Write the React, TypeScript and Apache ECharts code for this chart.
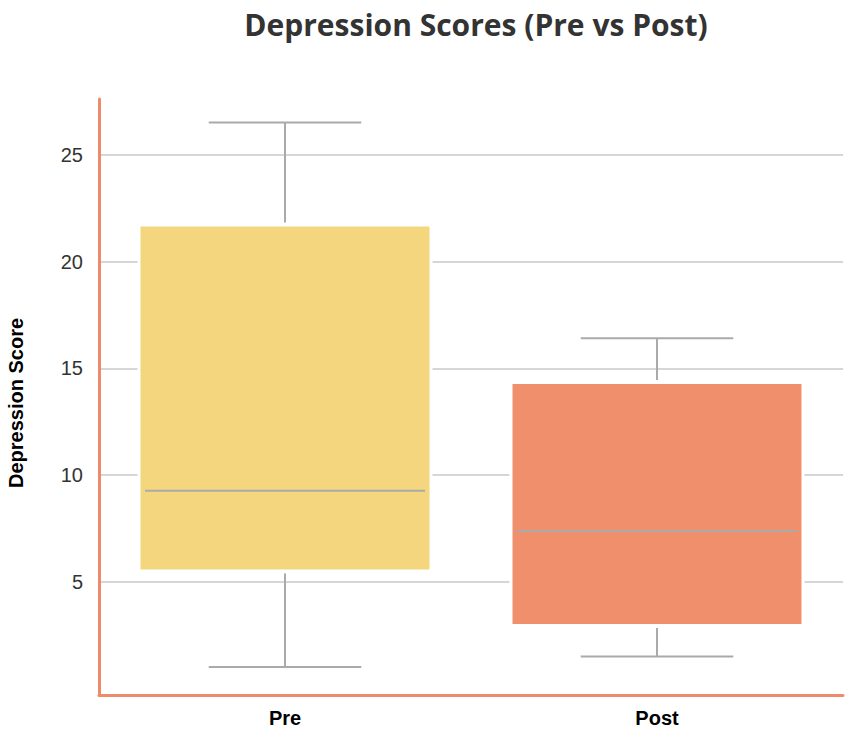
import React, { useEffect, useRef } from "react";
import * as echarts from "echarts";

const categories = ["Pre", "Post"];
const lowValues = [1.0, 1.5];
const q1Values = [5.5, 2.95];
const medianValues = [9.27, 7.38];
const q3Values = [21.72, 14.34];
const highValues = [26.53, 16.41];
const boxColors = ["#F4D67F", "#F08F6C"];
const yTickValues = [5, 10, 15, 20, 25];

export default function App() {
  const ref = useRef<HTMLDivElement>(null);
  useEffect(() => {
    if (!ref.current) return;
    const chart = echarts.init(ref.current, undefined, { renderer: "svg" });
    const data = categories.map((c, i) => [
      i,
      lowValues[i],
      q1Values[i],
      medianValues[i],
      q3Values[i],
      highValues[i],
    ]);
    const whiskerColor = "#aaaaaa";
    const option = {
      animation: false,
      title: {
        text: "Depression Scores (Pre vs Post)",
        left: 471,
        textAlign: "center",
        top: 4,
        textStyle: {
          fontFamily: "Open Sans",
          fontWeight: 700,
          fontSize: 30,
          color: "#333333",
        },
      },
      grid: { left: 99, right: 8, top: 99, bottom: 40, outerBoundsMode: "none" },
      xAxis: {
        type: "category",
        data: categories,
        axisLine: { show: true, onZero: false, lineStyle: { color: "#EE8B6A", width: 3 } },
        axisTick: { show: false },
        axisLabel: {
          margin: 13,
          fontFamily: "Liberation Sans",
          fontWeight: "bold",
          fontSize: 20,
          color: "#000",
        },
        splitLine: { show: false },
      },
      yAxis: {
        type: "value",
        min: -0.31,
        max: 27.63,
        name: "Depression Score",
        nameLocation: "middle",
        nameGap: 73,
        nameTextStyle: {
          fontFamily: "Liberation Sans",
          fontWeight: "bold",
          fontSize: 20,
          color: "#000",
          padding: [0, 12, 0, 0],
        },
        axisLine: { show: true, lineStyle: { color: "#EE8B6A", width: 3 } },
        axisTick: { show: false, customValues: yTickValues },
        axisLabel: {
          customValues: yTickValues,
          margin: 16,
          fontFamily: "Liberation Sans",
          fontSize: 20,
          color: "#333",
        },
        splitLine: { show: true, lineStyle: { color: "#c8c8c8", width: 1.5 } },
      },
      series: [
        {
          type: "custom",
          data,
          encode: { x: 0, y: [1, 2, 3, 4, 5] },
          renderItem: (params: any, api: any) => {
            const idx = api.value(0);
            const low = api.coord([idx, api.value(1)]);
            const q1 = api.coord([idx, api.value(2)]);
            const med = api.coord([idx, api.value(3)]);
            const q3 = api.coord([idx, api.value(4)]);
            const high = api.coord([idx, api.value(5)]);
            const band = api.size([1, 0])[0];
            const bw = band * 0.785;
            const cw = band * 0.41;
            const cx = low[0];
            const gap = 2.5;
            const lineStyle = { stroke: whiskerColor, lineWidth: 2 };
            return {
              type: "group",
              children: [
                {
                  type: "rect",
                  shape: { x: cx - bw / 2, y: q3[1], width: bw, height: q1[1] - q3[1] },
                  style: { fill: boxColors[idx], stroke: "#ffffff", lineWidth: 3 },
                },
                {
                  type: "line",
                  shape: { x1: cx - bw / 2 + 6, y1: med[1], x2: cx + bw / 2 - 6, y2: med[1] },
                  style: lineStyle,
                },
                {
                  type: "line",
                  shape: { x1: cx, y1: high[1], x2: cx, y2: q3[1] - gap },
                  style: lineStyle,
                },
                {
                  type: "line",
                  shape: { x1: cx - cw / 2, y1: high[1], x2: cx + cw / 2, y2: high[1] },
                  style: lineStyle,
                },
                {
                  type: "line",
                  shape: { x1: cx, y1: q1[1] + gap, x2: cx, y2: low[1] },
                  style: lineStyle,
                },
                {
                  type: "line",
                  shape: { x1: cx - cw / 2, y1: low[1], x2: cx + cw / 2, y2: low[1] },
                  style: lineStyle,
                },
              ],
            };
          },
        },
      ],
    };
    chart.setOption(option as any);
    return () => chart.dispose();
  }, []);
  return (
    <div
      ref={ref}
      style={{ position: "absolute", left: 0, top: 0, width: 851, height: 735 }}
    />
  );
}
